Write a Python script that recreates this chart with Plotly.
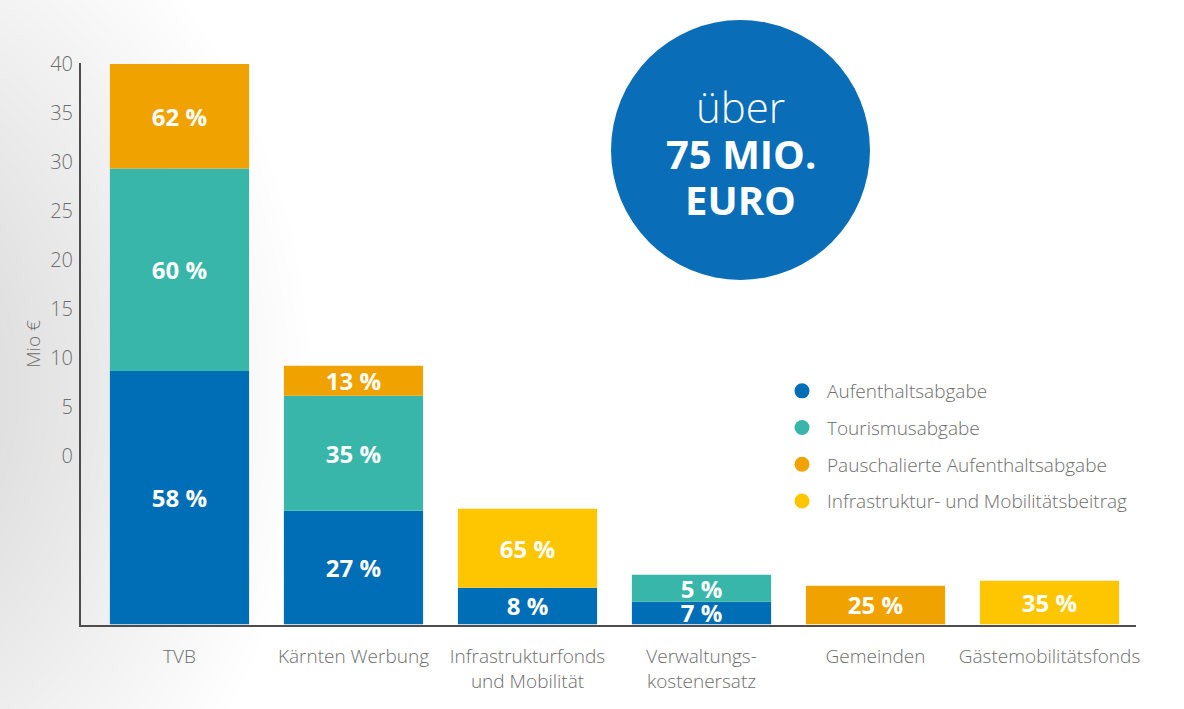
import numpy as np
import plotly.graph_objects as go

# ---------------- data ----------------
categories = ["TVB", "Kärnten Werbung", "Infrastrukturfonds<br>und Mobilität",
              "Verwaltungs-<br>kostenersatz", "Gemeinden", "Gästemobilitätsfonds"]
series_names = ["Aufenthaltsabgabe", "Tourismusabgabe",
                "Pauschalierte Aufenthaltsabgabe", "Infrastruktur- und Mobilitätsbeitrag"]
series_colors = ["#006db7", "#38b6aa", "#efa200", "#fdc600"]

# bars start below the axis' "0" label, as in the original graphic
bar_base = -17.12
aufenthalt = [25.84, 11.58, 3.72, 2.30, 0, 0]
tourismus = [20.67, 11.73, 0, 2.76, 0, 0]
pauschal = [10.65, 3.06, 0, 0, 3.93, 0]
infra = [0, 0, 8.06, 0, 0, 4.44]

aufenthalt_labels = ["58 %", "27 %", "8 %", "7 %", "", ""]
tourismus_labels = ["60 %", "35 %", "", "5 %", "", ""]
pauschal_labels = ["62 %", "13 %", "", "", "25 %", ""]
infra_labels = ["", "", "65 %", "", "", "35 %"]

y_tick_values = [0, 5, 10, 15, 20, 25, 30, 35, 40]

# ---------------- figure ----------------
FONT = "Open Sans"
GRAY = "#6e6e6e"

fig = go.Figure()
series_values = [aufenthalt, tourismus, pauschal, infra]
series_labels = [aufenthalt_labels, tourismus_labels, pauschal_labels, infra_labels]

cum = np.full(len(categories), bar_base, dtype=float)
for name, color, vals, labs in zip(series_names, series_colors, series_values, series_labels):
    v = np.array(vals, dtype=float)
    yvals = [val if val > 0 else None for val in v]
    fig.add_trace(go.Bar(
        x=list(range(len(categories))), y=yvals, base=cum.copy(),
        name=name, marker=dict(color=color, line=dict(width=0)),
        text=labs, textposition="inside", insidetextanchor="middle", textangle=0,
        textfont=dict(family=FONT, size=24, color="white", weight="bold"),
        showlegend=False, hoverinfo="skip",
    ))
    cum = cum + v

# legend entries with round markers
for i, (name, color) in enumerate(zip(series_names, series_colors)):
    fig.add_trace(go.Scatter(
        x=[None], y=[None], mode="markers", name=name, legendgroup=f"g{i}",
        marker=dict(color=color, size=15, symbol="circle"), showlegend=True,
    ))

# plot area geometry (pixels)
L, R, T, B = 81, 48, 63, 84
W, H = 1184, 709
pw, ph = W - L - R, H - T - B

def px(xp):
    return (xp - L) / pw

def py(yp):
    return (H - B - yp) / ph

shapes = []
# soft radial background shading on the left
radii = np.arange(150, 511, 10)
for r in radii:
    shapes.append(dict(type="circle", xref="paper", yref="paper",
                       xsizemode="pixel", ysizemode="pixel",
                       xanchor=px(-200), yanchor=py(390),
                       x0=-r, x1=r, y0=-r * 1.15, y1=r * 1.15,
                       fillcolor="rgba(0,0,0,0.0026)", line=dict(width=0), layer="below"))
# big blue badge
shapes.append(dict(type="circle", xref="paper", yref="paper",
                   xsizemode="pixel", ysizemode="pixel",
                   xanchor=px(740.5), yanchor=py(150),
                   x0=-129.5, x1=129.5, y0=-130, y1=130,
                   fillcolor="#0a6db7", line=dict(width=0), layer="above"))

annotations = [
    dict(text="über", x=px(740.5), y=py(107), xref="paper", yref="paper",
         showarrow=False, font=dict(family=FONT, size=42, color="white", weight=300),
         xanchor="center", yanchor="middle"),
    dict(text="<b>75 MIO.</b>", x=px(740.5), y=py(153), xref="paper", yref="paper",
         showarrow=False, font=dict(family=FONT, size=40, color="white"),
         xanchor="center", yanchor="middle"),
    dict(text="<b>EURO</b>", x=px(740.5), y=py(199), xref="paper", yref="paper",
         showarrow=False, font=dict(family=FONT, size=40, color="white"),
         xanchor="center", yanchor="middle"),
]

fig.update_layout(
    width=W, height=H,
    margin=dict(l=L, r=R, t=T, b=B, pad=0),
    paper_bgcolor="white", plot_bgcolor="rgba(0,0,0,0)",
    barmode="overlay", bargap=0.2,
    uniformtext=dict(minsize=24, mode="show"),
    font=dict(family=FONT, size=19, color=GRAY),
    shapes=shapes, annotations=annotations,
    showlegend=True,
    legend=dict(x=px(777), y=py(372), xanchor="left", yanchor="top",
                bgcolor="rgba(0,0,0,0)", borderwidth=0,
                font=dict(family=FONT, size=19, color=GRAY, weight=300),
                itemwidth=40, tracegroupgap=9, traceorder="grouped"),
)

fig.update_xaxes(
    range=[-0.566, 5.497], tickmode="array", tickvals=list(range(len(categories))),
    ticktext=categories, showline=True, linecolor="#4d4d4d", linewidth=2,
    showgrid=False, zeroline=False, ticks="", ticklabelstandoff=13,
    tickfont=dict(family=FONT, size=19, color=GRAY, weight=300),
)
fig.update_yaxes(
    range=[-17.2, 40.15], tickmode="array", tickvals=y_tick_values,
    ticktext=[str(v) for v in y_tick_values],
    showline=True, linecolor="#4d4d4d", linewidth=2,
    showgrid=False, zeroline=False, ticks="", ticklabelstandoff=2,
    tickfont=dict(family=FONT, size=20, color=GRAY, weight=300),
    title=dict(text="Mio €", standoff=5,
               font=dict(family=FONT, size=19, color=GRAY, weight=300)),
)

fig.write_html("out.html")
